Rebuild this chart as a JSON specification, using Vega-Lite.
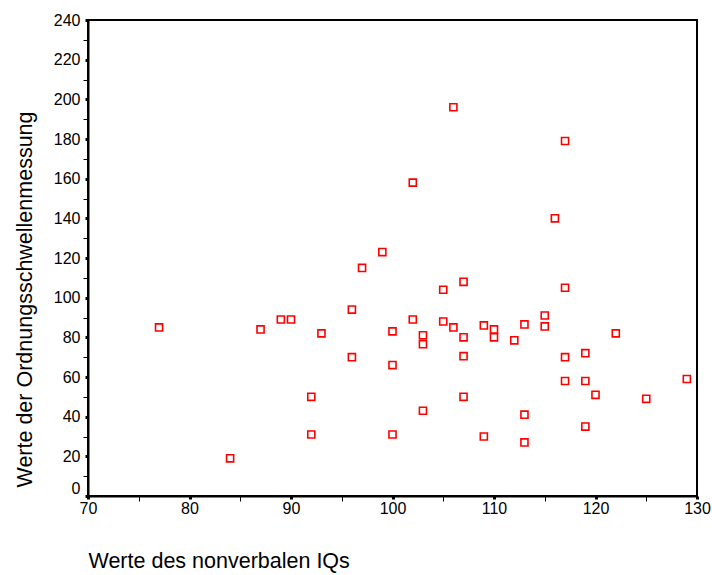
{
  "$schema": "https://vega.github.io/schema/vega-lite/v6.json",
  "autosize": "none",
  "width": 609,
  "height": 476,
  "padding": {"left": 88, "top": 20, "right": 15, "bottom": 79},
  "background": "white",
  "config": {
    "font": "Liberation Sans",
    "view": {"stroke": "black", "strokeWidth": 2}
  },
  "data": {
    "values": [
      {"iq": 77, "ord": 85}, {"iq": 84, "ord": 19}, {"iq": 87, "ord": 84},
      {"iq": 89, "ord": 89}, {"iq": 90, "ord": 89}, {"iq": 92, "ord": 50},
      {"iq": 92, "ord": 31}, {"iq": 93, "ord": 82}, {"iq": 96, "ord": 94},
      {"iq": 96, "ord": 70}, {"iq": 97, "ord": 115}, {"iq": 99, "ord": 123},
      {"iq": 100, "ord": 83}, {"iq": 100, "ord": 66}, {"iq": 100, "ord": 31},
      {"iq": 102, "ord": 158}, {"iq": 102, "ord": 89}, {"iq": 103, "ord": 81},
      {"iq": 103, "ord": 76.5}, {"iq": 103, "ord": 43}, {"iq": 105, "ord": 104},
      {"iq": 105, "ord": 88}, {"iq": 106, "ord": 196}, {"iq": 106, "ord": 85},
      {"iq": 107, "ord": 108}, {"iq": 107, "ord": 80}, {"iq": 107, "ord": 70.5},
      {"iq": 107, "ord": 50}, {"iq": 109, "ord": 86}, {"iq": 109, "ord": 30},
      {"iq": 110, "ord": 84}, {"iq": 110, "ord": 80}, {"iq": 112, "ord": 78.5},
      {"iq": 113, "ord": 86.5}, {"iq": 113, "ord": 41}, {"iq": 113, "ord": 27},
      {"iq": 115, "ord": 91}, {"iq": 115, "ord": 85.5}, {"iq": 116, "ord": 140},
      {"iq": 117, "ord": 179}, {"iq": 117, "ord": 105}, {"iq": 117, "ord": 70},
      {"iq": 117, "ord": 58}, {"iq": 119, "ord": 72}, {"iq": 119, "ord": 58},
      {"iq": 119, "ord": 35}, {"iq": 120, "ord": 51}, {"iq": 122, "ord": 82},
      {"iq": 125, "ord": 49}, {"iq": 129, "ord": 59}
    ]
  },
  "mark": {"type": "point", "shape": "square", "size": 50, "filled": false, "color": "#ff0000", "strokeWidth": 1.6, "opacity": 1, "fill": "white"},
  "encoding": {
    "x": {
      "field": "iq", "type": "quantitative",
      "scale": {"domain": [70, 130], "nice": false, "zero": false},
      "axis": {
        "title": "Werte des nonverbalen IQs",
        "titleFontSize": 21.5, "titleFontWeight": "normal", "titleColor": "black",
        "titleAnchor": "start", "titleAlign": "left", "titleBaseline": "alphabetic",
        "titleX": 0, "titleY": 71,
        "values": [70, 75, 80, 85, 90, 95, 100, 105, 110, 115, 120, 125, 130],
        "labelExpr": "datum.value % 10 === 0 ? datum.label : ''",
        "labelFontSize": 16, "labelColor": "black", "labelPadding": 1,
        "labelFlush": false, "labelOverlap": false,
        "domainColor": "black", "domainWidth": 2,
        "tickColor": "black",
        "tickSize": {"condition": {"test": "datum.value % 10 === 0", "value": 3}, "value": 5},
        "tickWidth": {"condition": {"test": "datum.value % 10 === 0", "value": 3}, "value": 1},
        "grid": false
      }
    },
    "y": {
      "field": "ord", "type": "quantitative",
      "scale": {"domain": [0, 240], "nice": false, "zero": true},
      "axis": {
        "title": "Werte der Ordnungsschwellenmessung",
        "titleFontSize": 21.5, "titleFontWeight": "normal", "titleColor": "black",
        "titleAngle": -90, "titleAlign": "center", "titleBaseline": "alphabetic",
        "titleX": -57, "titleY": 279,
        "values": [0, 10, 20, 30, 40, 50, 60, 70, 80, 90, 100, 110, 120, 130, 140, 150, 160, 170, 180, 190, 200, 210, 220, 230, 240],
        "labelExpr": "datum.value % 20 === 0 ? datum.label : ''",
        "labelFontSize": 16, "labelColor": "black", "labelPadding": 5,
        "labelFlush": false, "labelOverlap": false,
        "labelBaseline": {"condition": {"test": "datum.value === 0", "value": "bottom"}, "value": "middle"},
        "domainColor": "black", "domainWidth": 2,
        "tickColor": "black",
        "tickSize": {"condition": {"test": "datum.value % 20 === 0", "value": 3}, "value": 5},
        "tickWidth": {"condition": {"test": "datum.value % 20 === 0", "value": 3}, "value": 1},
        "grid": false
      }
    }
  }
}
